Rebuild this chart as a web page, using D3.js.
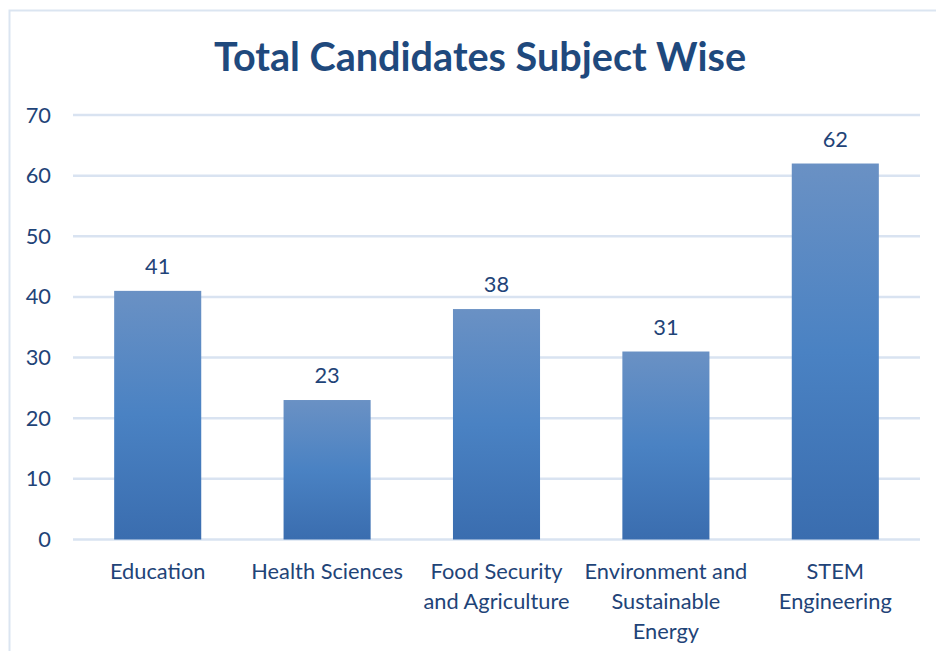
<!DOCTYPE html>
<html>
<head>
<meta charset="utf-8">
<script src="https://cdn.jsdelivr.net/npm/d3@7"></script>
<style>
  body { margin: 0; background: #fff; }
  text { font-family: Lato, "Open Sans", sans-serif; }
</style>
</head>
<body>
<div id="chart"></div>
<script>
var categories = ["Education", "Health Sciences", "Food Security and Agriculture", "Environment and Sustainable Energy", "STEM Engineering"];
var labelLines = [["Education"], ["Health Sciences"], ["Food Security", "and Agriculture"], ["Environment and", "Sustainable", "Energy"], ["STEM", "Engineering"]];
var values = [41, 23, 38, 31, 62];
var yTicks = [0, 10, 20, 30, 40, 50, 60, 70];

var W = 936, H = 651;
var x0 = 73, x1 = 920, yTop = 115, yBottom = 539.5;
var textColor = "#1f4478";
var fs = 21.8;

var svg = d3.select("#chart").append("svg").attr("width", W).attr("height", H);

// chart border
svg.append("rect").attr("x", 9.5).attr("y", 10.5).attr("width", W).attr("height", H)
    .attr("fill", "none").attr("stroke", "#dbe5f1").attr("stroke-width", 2);

var defs = svg.append("defs");
var grad = defs.append("linearGradient").attr("id", "barGrad")
    .attr("x1", 0).attr("y1", 0).attr("x2", 0).attr("y2", 1);
grad.append("stop").attr("offset", "0%").attr("stop-color", "#6a91c4");
grad.append("stop").attr("offset", "50%").attr("stop-color", "#4a82c3");
grad.append("stop").attr("offset", "100%").attr("stop-color", "#3a6daf");

var xScale = d3.scaleBand().domain(categories).range([x0, x1]).paddingInner(0.486).paddingOuter(0.243);
var yScale = d3.scaleLinear().domain([0, 70]).range([yBottom, yTop]);

svg.append("text").attr("x", 480).attr("y", 71).attr("text-anchor", "middle")
    .attr("font-size", 39.6).attr("font-weight", "bold").attr("fill", "#1f497d")
    .text("Total Candidates Subject Wise");

// gridlines
svg.append("g").selectAll("line").data(yTicks).enter().append("line")
    .attr("x1", x0).attr("x2", x1)
    .attr("y1", function (d) { return yScale(d); })
    .attr("y2", function (d) { return yScale(d); })
    .attr("stroke", "#d9e3f1").attr("stroke-width", 2.5);

// y tick labels
svg.append("g").selectAll("text").data(yTicks).enter().append("text")
    .attr("x", 51).attr("y", function (d) { return yScale(d) + 7.5; })
    .attr("text-anchor", "end").attr("font-size", fs).attr("fill", textColor)
    .text(function (d) { return d; });

// bars
svg.append("g").selectAll("rect").data(values).enter().append("rect")
    .attr("x", function (d, i) { return xScale(categories[i]); })
    .attr("y", function (d) { return yScale(d); })
    .attr("width", xScale.bandwidth())
    .attr("height", function (d) { return yScale(0) - yScale(d); })
    .attr("fill", "url(#barGrad)");

// value labels
svg.append("g").selectAll("text").data(values).enter().append("text")
    .attr("x", function (d, i) { return xScale(categories[i]) + xScale.bandwidth() / 2; })
    .attr("y", function (d) { return yScale(d) - 17; })
    .attr("text-anchor", "middle").attr("font-size", fs).attr("fill", textColor)
    .text(function (d) { return d; });

// category labels
var cat = svg.append("g").selectAll("text").data(categories).enter().append("text")
    .attr("x", function (d) { return xScale(d) + xScale.bandwidth() / 2; })
    .attr("y", 578.5)
    .attr("text-anchor", "middle").attr("font-size", fs).attr("fill", textColor);
cat.each(function (d, i) {
    var t = d3.select(this);
    labelLines[i].forEach(function (line, j) {
        t.append("tspan").attr("x", t.attr("x")).attr("dy", j === 0 ? 0 : 30).text(line);
    });
});
</script>
</body>
</html>
